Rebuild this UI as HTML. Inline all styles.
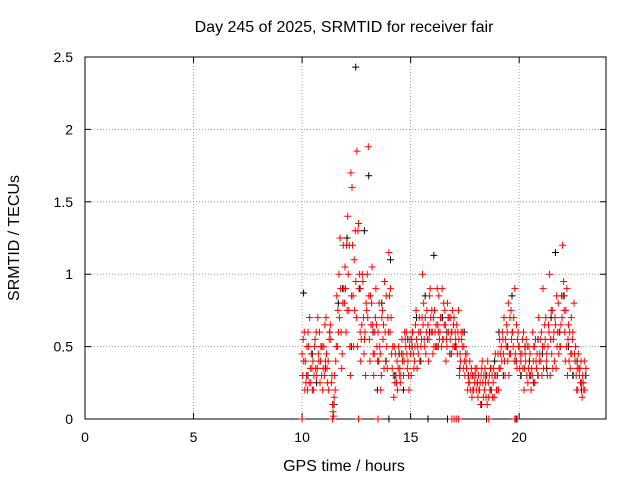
<!DOCTYPE html>
<html><head><meta charset="utf-8"><style>
body{margin:0;background:#fff;}
svg text{font-family:"Liberation Sans",sans-serif;font-size:14px;fill:#000;}
svg text.big{font-size:16px;}
</style></head><body>
<svg id="chart" width="640" height="480" xmlns="http://www.w3.org/2000/svg">
<rect width="640" height="480" fill="#fff"/>
<text class="big" x="344" y="32" text-anchor="middle">Day 245 of 2025, SRMTID for receiver fair</text>
<text class="big" x="344" y="471" text-anchor="middle">GPS time / hours</text>
<text class="big" transform="translate(19,238) rotate(-90)" text-anchor="middle">SRMTID / TECUs</text>
<g id="grid"></g>
<g id="axes"></g>
<g id="marks"></g>
</svg>
<script>
const xTicks=[0,5,10,15,20];
const yTicks=[0,0.5,1,1.5,2,2.5];
const yTickLabels=["0","0.5","1","1.5","2","2.5"];
const redA=[.45,.6,.3,.5,.25,.4,.55,.35,.6,.3,.5,.7,.4,.65,.1,.3,.85,1.0,.6,1.2,.9,1.4,.5,1.6,1.1,.7,1.35,.4,.95,.6,1.0,.55,.8,.3,.9,.6,.45,.75,.95,.5,1.15,.7,.3,.45,.2,.35,.55,.4,.6,.3,.45,.6,.5,.35,.7,.55,.8,.45,.65,.9,.6,.75,.5,.85,.7,.55,.65,.8,.45,.6,.7,.5,.75,.4,.6,.3,.45,.25,.35,.2,.3,.15,.25,.4,.2,.3,.15,.35,.25,.45,.3,.55,.4,.7,.5,.8,.45,.6,.9,.35,.5,.3,.6,.4,.25,.45,.3,.5,.35,.7,.4,.9,.55,.3,1.0,.45,.6,.35,.8,.5,1.2,.6,.9,.4,.7,.3,.5,.2,.35,.15,.4];
const redB=[.3,.2,.5,.25,.45,.2,.35,.7,.25,.5,.3,.45,.2,.55,.05,.2,.5,.7,.35,.9,.6,1.0,.3,1.2,.75,1.85,.9,.55,.7,.3,.7,.4,1.05,.45,.65,.4,.2,.55,.6,.35,.85,.45,.15,.3,.35,.25,.4,.6,.45,.2,.3,.45,.65,.5,.4,.7,.55,.6,.4,.7,.45,.6,.9,.55,.5,.8,.4,.7,.55,.75,.5,.65,.55,.6,.35,.45,.2,.4,.15,.3,.2,.3,.1,.25,.35,.1,.3,.2,.35,.3,.45,.35,.6,.4,.65,.3,.75,.5,.45,.55,.35,.45,.2,.55,.35,.3,.6,.25,.45,.4,.6,.35,.7,.5,.3,.75,.4,.85,.45,.65,.85,.4,.3,.6,.45,.8,.3,.45,.25,.3,.2];
const redC=[.55,.4,.2,.7,.35,.3,.6,.45,.4,.2,.65,.35,.55,.25,.02,.4,.75,1.25,.45,.8,1.2,.75,1.7,.85,1.3,.5,1.0,.65,.45,.8,1.88,.85,.65,.6,.5,.8,.3,.65,.4,.7,.6,.35,.5,.25,.5,.3,.45,.55,.35,.5,.55,.35,.75,.45,.6,1.0,.5,.75,.55,.6,.7,.5,.65,.6,.9,.65,.55,.6,.7,.5,.6,.45,.3,.55,.5,.4,.3,.2,.3,.25,.35,.2,.3,.15,.25,.4,.2,.3,.15,.2,.2,.45,.55,.3,.6,.45,.55,.7,.4,.6,.45,.55,.35,.3,.5,.2,.4,.55,.3,.45,.3,.5,.4,.65,.55,.35,.7,.5,.6,.85,.95,.75,.55,.35,.55,.45,.2,.35,.4,.25,.3];
const redD=[.4,.25,.6,.35,.2,.5,.3,.4,.5,.35,.4,.25,.6,.3,.15,.5,.6,.9,.8,1.05,.75,1.2,.85,.5,.95,1.3,.6,1.0,.55,.75,.85,.65,.45,.7,.4,.5,.7,.35,.85,.6,.9,.5,.25,.4,.3,.45,.3,.5,.4,.55,.6,.4,.55,.6,.5,.65,.7,.55,.85,.75,.5,.65,.6,.7,.55,.75,.5,.7,.6,.65,.55,.6,.45,.5,.4,.35,.25,.3,.2,.35,.25,.2,.35,.3,.15,.25,.35,.15,.3,.2,.35,.5,.45,.55,.4,.7,.6,.4,.65,.5,.4,.35,.45,.5,.3,.35,.5,.4,.3,.55,.5,.65,.45,.6,.75,.55,.65,.6,.5,.7,.75,.5,.65,.45,.6,.4,.35,.3,.25,.2,.35];
const blackVals=[.87,.3,.45,.25,.5,.35,.6,.1,.8,.9,1.25,.5,2.43,.9,1.3,1.68,.6,.2,.8,.4,1.1,.3,.45,.2,.55,.5,.7,.4,.85,.6,1.13,.5,.7,.6,.45,.5,.35,.6,.3,.2,.25,.1,.3,.2,.4,.6,.3,.5,.85,.4,.3,.5,.4,.25,.55,.45,.35,.7,1.15,.6,.85,.5,.3,.4,.2,.3];
const redZeroTimes=[10,11.4,12.6,13.5,16.9,17.0,17.1,17.2,18.6,19.8,19.85];
const blackZeroTimes=[14.0,15.8,16.7,18.5,19.9];
const L=85,R=606,T=57,B=419;
const xs=h=>L+(h/24)*(R-L);
const ys=v=>B-(v/2.5)*(B-T);
const NS="http://www.w3.org/2000/svg";
function mk(tag,attrs,parent){const e=document.createElementNS(NS,tag);for(const k in attrs)e.setAttribute(k,attrs[k]);parent.appendChild(e);return e;}
const grid=document.getElementById('grid'),axes=document.getElementById('axes'),marks=document.getElementById('marks');
xTicks.forEach((t,i)=>{
  if(t>0){const g=mk('line',{x1:xs(t),x2:xs(t),y1:T,y2:B,stroke:'#a0a0a0','stroke-dasharray':'1,2'},grid);
  
  }
  mk('line',{x1:xs(t),x2:xs(t),y1:B,y2:B-6,stroke:'#000'},axes);
  mk('line',{x1:xs(t),x2:xs(t),y1:T,y2:T+6,stroke:'#000'},axes);
  const tx=mk('text',{x:xs(t),y:B+23,'text-anchor':'middle'},axes);tx.textContent=String(t);
  
  
});
yTicks.forEach((t,i)=>{
  if(t>0&&t<2.5){const g=mk('line',{x1:L,x2:R,y1:ys(t),y2:ys(t),stroke:'#a0a0a0','stroke-dasharray':'1,2'},grid);
  
  }
  mk('line',{x1:L,x2:L+6,y1:ys(t),y2:ys(t),stroke:'#000'},axes);
  mk('line',{x1:R,x2:R-6,y1:ys(t),y2:ys(t),stroke:'#000'},axes);
  const tx=mk('text',{x:L-12,y:ys(t)+5,'text-anchor':'end'},axes);tx.textContent=yTickLabels[i];
  
  
});
mk('rect',{x:L,y:T,width:R-L,height:B-T,fill:'none',stroke:'#000'},axes);
function plus(h,v,c,name){
  const x=xs(h),y=ys(v);
  const p=mk('path',{d:`M${x-3.5},${y}H${x+3.5}M${x},${y-3.5}V${y+3.5}`,stroke:c,'stroke-width':1},marks);
  
  
}
blackVals.forEach((v,i)=>plus(10+i*0.2+0.07,v,'#000','black-point'));
blackZeroTimes.forEach(h=>plus(h,0,'#000','black-zero-point'));
[redA,redB,redC,redD].forEach((arr,k)=>arr.forEach((v,i)=>plus(10+i*0.1+k*0.025,v,'#ff0000','red-point')));
redZeroTimes.forEach(h=>plus(h,0,'#ff0000','red-zero-point'));
</script>
</body></html>
